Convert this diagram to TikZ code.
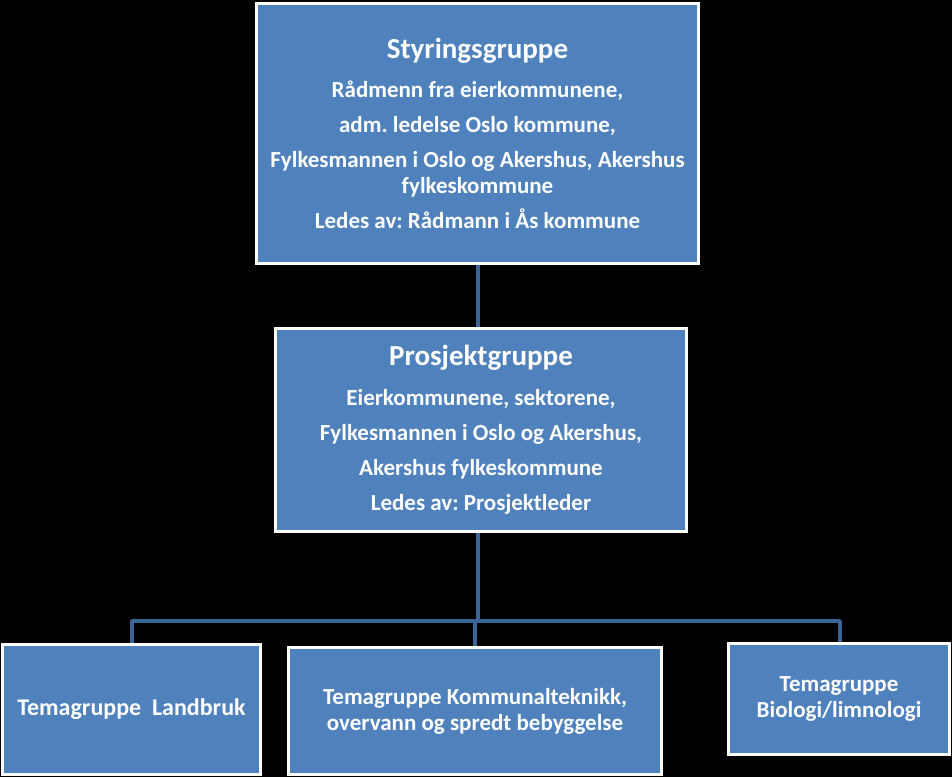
\documentclass[tikz,border=0pt]{standalone}
\usepackage{fontspec}
\setmainfont{Carlito}
\frenchspacing
\definecolor{boxblue}{HTML}{4F81BD}
\definecolor{linkblue}{HTML}{3C6597}
\tikzset{
  orgbox/.style={draw=white, line width=3pt, fill=boxblue, text=white,
    font=\bfseries\fontsize{23}{26}\selectfont, align=center, inner sep=0pt,
    rectangle},
  link/.style={draw=linkblue, line width=3.5pt},
}
\begin{document}
\begin{tikzpicture}[x=1pt,y=-1pt]
\useasboundingbox[fill=black] (0,0) rectangle (952,777);
\node[orgbox, minimum width=442pt, minimum height=260pt] (sty) at (477.5,133.5)
  {{\fontsize{29}{30}\selectfont Styringsgruppe}\\[13pt]
   Rådmenn fra eierkommunene,\\[9pt]
   adm. ledelse Oslo kommune,\\[9pt]
   Fylkesmannen i Oslo og Akershus, Akershus\\
   fylkeskommune\\[9pt]
   Ledes av: Rådmann i Ås kommune};
\node[orgbox, minimum width=411pt, minimum height=203pt] (pro) at (481,430)
  {{\fontsize{29}{30}\selectfont Prosjektgruppe}\\[14pt]
   Eierkommunene, sektorene,\\[9pt]
   Fylkesmannen i Oslo og Akershus,\\[9pt]
   Akershus fylkeskommune\\[9pt]
   Ledes av: Prosjektleder};
\node[orgbox, minimum width=258pt, minimum height=130pt] (land) at (131.5,709.5)
  {\fontsize{24}{26}\selectfont Temagruppe\ \ Landbruk};
\node[orgbox, minimum width=373pt, minimum height=127pt] (komm) at (475,711)
  {Temagruppe Kommunalteknikk,\\overvann og spredt bebyggelse};
\node[orgbox, minimum width=221pt, minimum height=111pt] (bio) at (839,699)
  {Temagruppe\\Biologi/limnologi};
\coordinate (bar) at (478,621);
\coordinate (barL) at (132,621);
\coordinate (barM) at (475,621);
\coordinate (barR) at (840,621);
\draw[link] (sty.south -| bar) -- (pro.north -| bar);
\draw[link] (pro.south -| bar) -- (bar);
\draw[link, line join=round] (land.north -| barL) -- (barL) -- (barR) -- (bio.north -| barR);
\draw[link] (barM) -- (komm.north -| barM);
\end{tikzpicture}
\end{document}
